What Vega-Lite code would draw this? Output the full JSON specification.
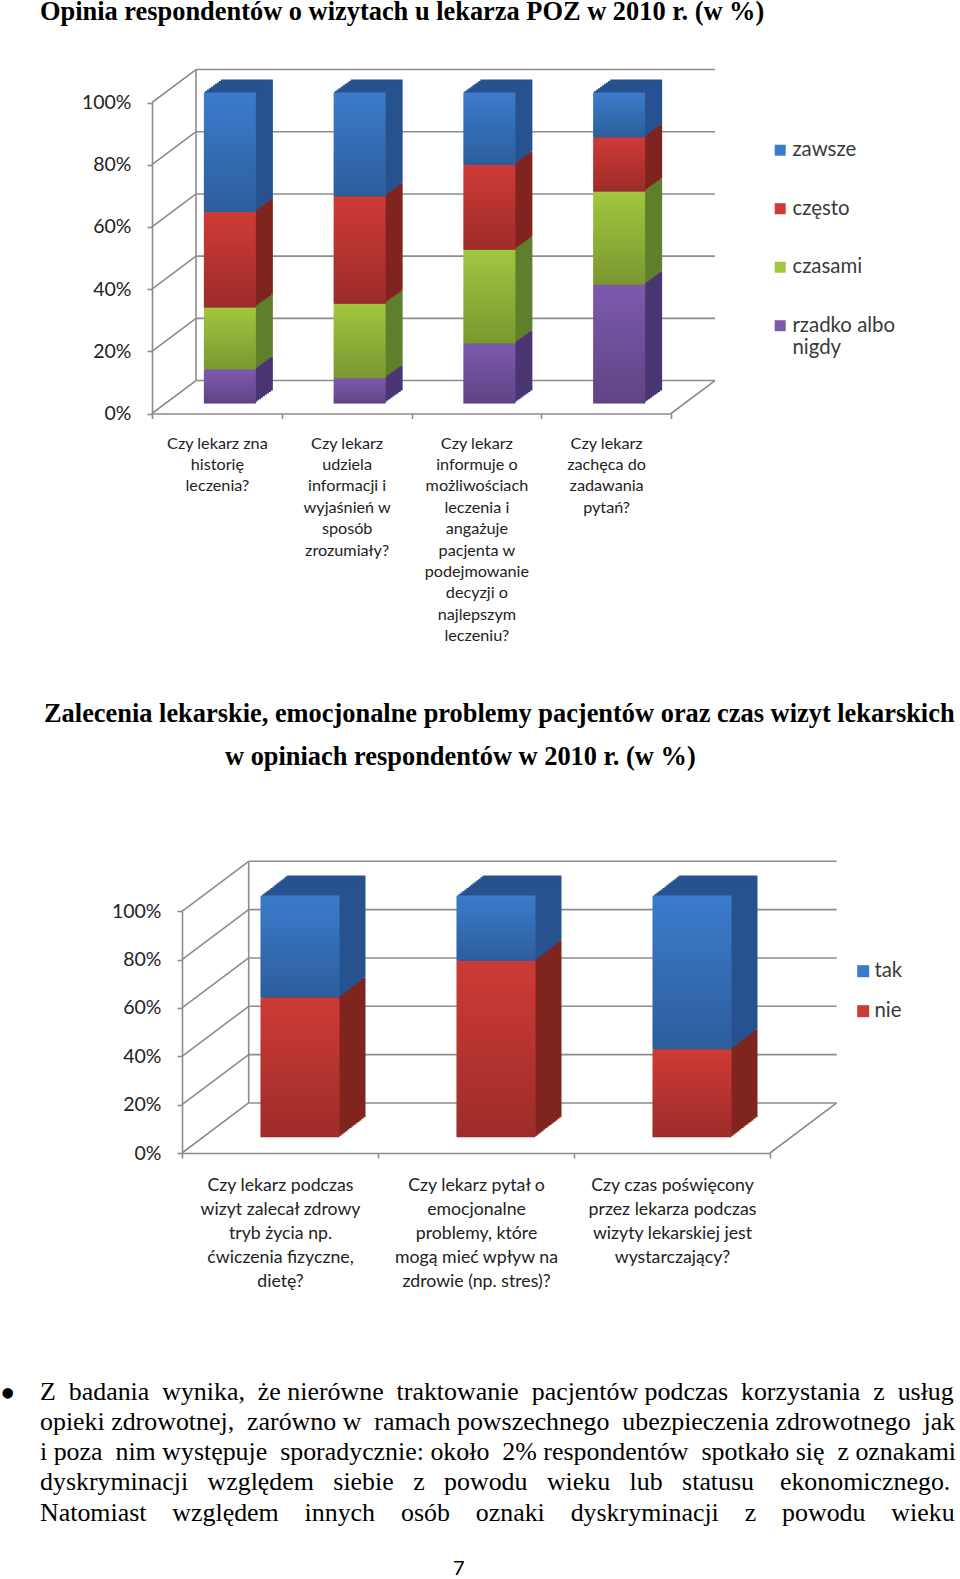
{"$schema":"https://vega.github.io/schema/vega-lite/v6.json","padding":{"left":0,"right":0,"top":-2,"bottom":0},"spacing":0,"bounds":"flush","background":"white",
"config":{"view":{"stroke":null},"title":{"font":"Liberation Serif","fontWeight":"bold","fontSize":26.4,"color":"#000000","orient":"bottom","anchor":"start","offset":0},
"axis":{"labelFont":"Lato","labelColor":"#222222","domainColor":"#8c8c8c","domainWidth":1.6,"tickColor":"#8c8c8c","tickWidth":1.6,"tickSize":5,"grid":false,"title":null},
"legend":{"labelFont":"Lato","labelFontSize":20.4,"labelColor":"#3a3a3a","symbolType":"square","symbolStrokeWidth":0,"title":null}},
"vconcat":[
{"width":960,"height":1,"data":{"values":[{"a":1}]},"mark":{"type":"text","text":" ","fontSize":1},"encoding":{},"title":{"text":"Opinia respondentów o wizytach u lekarza POZ w 2010 r. (w %)","dx":40,"dy":-12.5}},
{"width":960,"height":406.5,
"layer":[
{"data":{"values":[
{"x0":0,"x1":0.0848,"v0":0,"v1":10.6},{"x0":0,"x1":0.0848,"v0":20,"v1":30.6},{"x0":0,"x1":0.0848,"v0":40,"v1":50.6},{"x0":0,"x1":0.0848,"v0":60,"v1":70.6},{"x0":0,"x1":0.0848,"v0":80,"v1":90.6},{"x0":0,"x1":0.0848,"v0":100,"v1":110.6},
{"x0":0.0848,"x1":1.0848,"v0":10.6,"v1":10.6},{"x0":0.0848,"x1":1.0848,"v0":30.6,"v1":30.6},{"x0":0.0848,"x1":1.0848,"v0":50.6,"v1":50.6},{"x0":0.0848,"x1":1.0848,"v0":70.6,"v1":70.6},{"x0":0.0848,"x1":1.0848,"v0":90.6,"v1":90.6},{"x0":0.0848,"x1":1.0848,"v0":110.6,"v1":110.6},
{"x0":0.0848,"x1":0.0848,"v0":10.6,"v1":110.6},{"x0":1,"x1":1.0848,"v0":0,"v1":10.6}]},
"mark":{"type":"rule","color":"#8c8c8c","strokeWidth":1.6},
"encoding":{"x":{"field":"x0","type":"quantitative","axis":null,"scale":{"domain":[0,1],"range":[152,671],"nice":false,"zero":false}},"x2":{"field":"x1"},
"y":{"field":"v0","type":"quantitative","scale":{"domain":[0,100],"range":[406.5,95.5],"nice":false},"axis":{"values":[0,20,40,60,80,100],"format":".0f","labelExpr":"datum.label+'%'","labelFontSize":19.5,"labelPadding":16,"offset":-152}},"y2":{"field":"v1"}}},
{"data":{"values":[
{"pytanie":"Czy lekarz zna\nhistorię\nleczenia?","seria":"rzadko albo nigdy","kolejnosc":1,"wartosc":10.9},
{"pytanie":"Czy lekarz zna\nhistorię\nleczenia?","seria":"czasami","kolejnosc":2,"wartosc":20},
{"pytanie":"Czy lekarz zna\nhistorię\nleczenia?","seria":"często","kolejnosc":3,"wartosc":30.7},
{"pytanie":"Czy lekarz zna\nhistorię\nleczenia?","seria":"zawsze","kolejnosc":4,"wartosc":38.4},
{"pytanie":"Czy lekarz\nudziela\ninformacji i\nwyjaśnień w\nsposób\nzrozumiały?","seria":"rzadko albo nigdy","kolejnosc":1,"wartosc":8.1},
{"pytanie":"Czy lekarz\nudziela\ninformacji i\nwyjaśnień w\nsposób\nzrozumiały?","seria":"czasami","kolejnosc":2,"wartosc":24},
{"pytanie":"Czy lekarz\nudziela\ninformacji i\nwyjaśnień w\nsposób\nzrozumiały?","seria":"często","kolejnosc":3,"wartosc":34.5},
{"pytanie":"Czy lekarz\nudziela\ninformacji i\nwyjaśnień w\nsposób\nzrozumiały?","seria":"zawsze","kolejnosc":4,"wartosc":33.4},
{"pytanie":"Czy lekarz\ninformuje o\nmożliwościach\nleczenia i\nangażuje\npacjenta w\npodejmowanie\ndecyzji o\nnajlepszym\nleczeniu?","seria":"rzadko albo nigdy","kolejnosc":1,"wartosc":19.3},
{"pytanie":"Czy lekarz\ninformuje o\nmożliwościach\nleczenia i\nangażuje\npacjenta w\npodejmowanie\ndecyzji o\nnajlepszym\nleczeniu?","seria":"czasami","kolejnosc":2,"wartosc":30.1},
{"pytanie":"Czy lekarz\ninformuje o\nmożliwościach\nleczenia i\nangażuje\npacjenta w\npodejmowanie\ndecyzji o\nnajlepszym\nleczeniu?","seria":"często","kolejnosc":3,"wartosc":27.4},
{"pytanie":"Czy lekarz\ninformuje o\nmożliwościach\nleczenia i\nangażuje\npacjenta w\npodejmowanie\ndecyzji o\nnajlepszym\nleczeniu?","seria":"zawsze","kolejnosc":4,"wartosc":23.2},
{"pytanie":"Czy lekarz\nzachęca do\nzadawania\npytań?","seria":"rzadko albo nigdy","kolejnosc":1,"wartosc":38.2},
{"pytanie":"Czy lekarz\nzachęca do\nzadawania\npytań?","seria":"czasami","kolejnosc":2,"wartosc":30},
{"pytanie":"Czy lekarz\nzachęca do\nzadawania\npytań?","seria":"często","kolejnosc":3,"wartosc":17.4},
{"pytanie":"Czy lekarz\nzachęca do\nzadawania\npytań?","seria":"zawsze","kolejnosc":4,"wartosc":14.4}]},
"encoding":{
"x":{"field":"pytanie","type":"nominal","sort":null,"scale":{"range":[152,671],"paddingInner":0,"paddingOuter":0},"axis":{"labelExpr":"split(datum.label,'\\n')","labelAngle":0,"labelFontSize":16.2,"labelLineHeight":21.4,"labelPadding":16.5,"labelBaseline":"top","tickBand":"extent","labelLimit":0}},
"y":{"field":"wartosc","type":"quantitative","stack":"zero","scale":{"domain":[0,100],"range":[406.5,95.5],"nice":false},"axis":{"values":[0,20,40,60,80,100],"format":".0f","labelExpr":"datum.label+'%'","labelFontSize":19.5,"labelPadding":16,"offset":-152}},
"detail":{"field":"seria"},"order":{"field":"kolejnosc","type":"quantitative"}},
"layer":[
{"encoding":{"color":{"field":"seria","type":"nominal","legend":null,"scale":{"domain":["zawsze","często","czasami","rzadko albo nigdy"],"range":["#275290","#80241f","#5f7f2c","#4a3672"]}}},
"layer":[
{"mark":{"type":"bar","size":52,"xOffset":30,"yOffset":-23}},
{"mark":{"type":"bar","size":52,"xOffset":28,"yOffset":-21.5}},
{"mark":{"type":"bar","size":52,"xOffset":26,"yOffset":-20}},
{"mark":{"type":"bar","size":52,"xOffset":24,"yOffset":-18.7}},
{"mark":{"type":"bar","size":52,"xOffset":22,"yOffset":-17.2}},
{"mark":{"type":"bar","size":52,"xOffset":20,"yOffset":-15.8}},
{"mark":{"type":"bar","size":52,"xOffset":18,"yOffset":-14.3}},
{"mark":{"type":"bar","size":52,"xOffset":16,"yOffset":-12.9}},
{"mark":{"type":"bar","size":52,"xOffset":14,"yOffset":-11.4}}]},
{"mark":{"type":"bar","size":52,"xOffset":13,"yOffset":-10},
"encoding":{"color":{"field":"seria","type":"nominal","scale":{"domain":["zawsze","często","czasami","rzadko albo nigdy"],"range":["#3b7bcc","#ce3a36","#a2c63f","#7d59ae"]},
"legend":{"orient":"none","legendX":770,"legendY":133,"padding":0,"symbolSize":121,"rowPadding":37.5,"labelOffset":2,"labelLimit":0,"labelExpr":"datum.label=='rzadko albo nigdy'?['rzadko albo','nigdy']:datum.label"}}}},
{"mark":{"type":"bar","size":52,"xOffset":13,"yOffset":-10,"color":{"gradient":"linear","x1":0,"y1":0,"x2":0,"y2":1,"stops":[{"offset":0,"color":"rgba(0,0,0,0)"},{"offset":1,"color":"rgba(0,0,0,0.24)"}]}}}
],"resolve":{"scale":{"color":"independent"}}}
],"resolve":{"scale":{"x":"independent"},"axis":{"x":"independent"}}},
{"width":960,"height":289.5,"data":{"values":[{"a":1}]},"mark":{"type":"text","text":" ","fontSize":1},"encoding":{},"title":{"text":"Zalecenia lekarskie, emocjonalne problemy pacjentów oraz czas wizyt lekarskich","dx":44,"dy":-6.5}},
{"width":960,"height":42,"data":{"values":[{"a":1}]},"mark":{"type":"text","text":" ","fontSize":1},"encoding":{},"title":{"text":"w opiniach respondentów w 2010 r. (w %)","dx":225,"dy":-6}},
{"width":960,"height":407,
"layer":[
{"data":{"values":[
{"x0":0,"x1":0.1134,"v0":0,"v1":20.7},{"x0":0,"x1":0.1134,"v0":20,"v1":40.7},{"x0":0,"x1":0.1134,"v0":40,"v1":60.7},{"x0":0,"x1":0.1134,"v0":60,"v1":80.7},{"x0":0,"x1":0.1134,"v0":80,"v1":100.7},{"x0":0,"x1":0.1134,"v0":100,"v1":120.7},
{"x0":0.1134,"x1":1.1134,"v0":20.7,"v1":20.7},{"x0":0.1134,"x1":1.1134,"v0":40.7,"v1":40.7},{"x0":0.1134,"x1":1.1134,"v0":60.7,"v1":60.7},{"x0":0.1134,"x1":1.1134,"v0":80.7,"v1":80.7},{"x0":0.1134,"x1":1.1134,"v0":100.7,"v1":100.7},{"x0":0.1134,"x1":1.1134,"v0":120.7,"v1":120.7},
{"x0":0.1134,"x1":0.1134,"v0":20.7,"v1":120.7},{"x0":1,"x1":1.1134,"v0":0,"v1":20.7}]},
"mark":{"type":"rule","color":"#8c8c8c","strokeWidth":1.6},
"encoding":{"x":{"field":"x0","type":"quantitative","axis":null,"scale":{"domain":[0,1],"range":[182,770],"nice":false,"zero":false}},"x2":{"field":"x1"},
"y":{"field":"v0","type":"quantitative","scale":{"domain":[0,100],"range":[407,165.3],"nice":false},"axis":{"values":[0,20,40,60,80,100],"format":".0f","labelExpr":"datum.label+'%'","labelFontSize":19.5,"labelPadding":16,"offset":-182}},"y2":{"field":"v1"}}},
{"data":{"values":[
{"pytanie":"Czy lekarz podczas\nwizyt zalecał zdrowy\ntryb życia np.\nćwiczenia fizyczne,\ndietę?","seria":"nie","kolejnosc":1,"wartosc":57.8},
{"pytanie":"Czy lekarz podczas\nwizyt zalecał zdrowy\ntryb życia np.\nćwiczenia fizyczne,\ndietę?","seria":"tak","kolejnosc":2,"wartosc":42.2},
{"pytanie":"Czy lekarz pytał o\nemocjonalne\nproblemy, które\nmogą mieć wpływ na\nzdrowie (np. stres)?","seria":"nie","kolejnosc":1,"wartosc":73},
{"pytanie":"Czy lekarz pytał o\nemocjonalne\nproblemy, które\nmogą mieć wpływ na\nzdrowie (np. stres)?","seria":"tak","kolejnosc":2,"wartosc":27},
{"pytanie":"Czy czas poświęcony\nprzez lekarza podczas\nwizyty lekarskiej jest\nwystarczający?","seria":"nie","kolejnosc":1,"wartosc":36.4},
{"pytanie":"Czy czas poświęcony\nprzez lekarza podczas\nwizyty lekarskiej jest\nwystarczający?","seria":"tak","kolejnosc":2,"wartosc":63.6}]},
"encoding":{
"x":{"field":"pytanie","type":"nominal","sort":null,"scale":{"range":[182,770],"paddingInner":0,"paddingOuter":0},"axis":{"labelExpr":"split(datum.label,'\\n')","labelAngle":0,"labelFontSize":17.7,"labelLineHeight":24,"labelPadding":18,"labelBaseline":"top","tickBand":"extent","labelLimit":0}},
"y":{"field":"wartosc","type":"quantitative","stack":"zero","scale":{"domain":[0,100],"range":[407,165.3],"nice":false},"axis":{"values":[0,20,40,60,80,100],"format":".0f","labelExpr":"datum.label+'%'","labelFontSize":19.5,"labelPadding":16,"offset":-182}},
"detail":{"field":"seria"},"order":{"field":"kolejnosc","type":"quantitative"}},
"layer":[
{"encoding":{"color":{"field":"seria","type":"nominal","legend":null,"scale":{"domain":["tak","nie"],"range":["#275290","#80241f"]}}},
"layer":[
{"mark":{"type":"bar","size":79,"xOffset":46,"yOffset":-35.7}},
{"mark":{"type":"bar","size":79,"xOffset":44,"yOffset":-34.2}},
{"mark":{"type":"bar","size":79,"xOffset":42,"yOffset":-32.6}},
{"mark":{"type":"bar","size":79,"xOffset":40,"yOffset":-31.1}},
{"mark":{"type":"bar","size":79,"xOffset":38,"yOffset":-29.5}},
{"mark":{"type":"bar","size":79,"xOffset":36,"yOffset":-28}},
{"mark":{"type":"bar","size":79,"xOffset":34,"yOffset":-26.5}},
{"mark":{"type":"bar","size":79,"xOffset":32,"yOffset":-24.9}},
{"mark":{"type":"bar","size":79,"xOffset":30,"yOffset":-23.4}},
{"mark":{"type":"bar","size":79,"xOffset":28,"yOffset":-21.8}},
{"mark":{"type":"bar","size":79,"xOffset":26,"yOffset":-20.3}},
{"mark":{"type":"bar","size":79,"xOffset":24,"yOffset":-18.8}},
{"mark":{"type":"bar","size":79,"xOffset":22,"yOffset":-17.2}}]},
{"mark":{"type":"bar","size":79,"xOffset":20,"yOffset":-15.7},
"encoding":{"color":{"field":"seria","type":"nominal","scale":{"domain":["tak","nie"],"range":["#3b7bcc","#ce3a36"]},
"legend":{"orient":"none","legendX":853,"legendY":215,"padding":0,"symbolSize":144,"rowPadding":19,"labelOffset":1}}}},
{"mark":{"type":"bar","size":79,"xOffset":20,"yOffset":-15.7,"color":{"gradient":"linear","x1":0,"y1":0,"x2":0,"y2":1,"stops":[{"offset":0,"color":"rgba(0,0,0,0)"},{"offset":1,"color":"rgba(0,0,0,0.24)"}]}}}
],"resolve":{"scale":{"color":"independent"}}}
],"resolve":{"scale":{"x":"independent"},"axis":{"x":"independent"}}},
{"width":960,"height":227,"data":{"values":[{"a":1}]},"mark":{"type":"text","text":" ","fontSize":1},"encoding":{},"title":{"text":"•","dx":0,"dy":-11,"fontWeight":"normal","font":"Liberation Serif","fontSize":44}},
{"width":960,"height":1,"data":{"values":[{"a":1}]},"mark":{"type":"text","text":" ","fontSize":1},"encoding":{},"title":{"text":["Z \u00a0badania \u00a0wynika, \u00a0że nierówne \u00a0traktowanie \u00a0pacjentów podczas \u00a0korzystania \u00a0z \u00a0usług","opieki zdrowotnej, \u00a0zarówno w \u00a0ramach powszechnego \u00a0ubezpieczenia zdrowotnego \u00a0jak","i poza \u00a0nim występuje \u00a0sporadycznie: około \u00a02% respondentów \u00a0spotkało się \u00a0z oznakami","dyskryminacji \u00a0\u00a0względem \u00a0\u00a0siebie \u00a0\u00a0z \u00a0\u00a0powodu \u00a0\u00a0wieku \u00a0\u00a0lub \u00a0\u00a0statusu \u00a0\u00a0\u00a0ekonomicznego.","Natomiast \u00a0\u00a0\u00a0względem \u00a0\u00a0\u00a0innych \u00a0\u00a0\u00a0osób \u00a0\u00a0\u00a0oznaki \u00a0\u00a0\u00a0dyskryminacji \u00a0\u00a0\u00a0z \u00a0\u00a0\u00a0powodu \u00a0\u00a0\u00a0wieku"],"dx":40,"dy":-5.5,"fontWeight":"normal","fontSize":25.9,"lineHeight":30.3}},
{"width":960,"height":176,"data":{"values":[{"a":1}]},"mark":{"type":"text","text":" ","fontSize":1},"encoding":{},"title":{"text":"7","dx":453,"dy":-2,"fontWeight":"normal","font":"Lato","fontSize":20}},
{"width":960,"height":25,"data":{"values":[{"a":1}]},"mark":{"type":"text","text":" ","fontSize":1},"encoding":{}}
]}
